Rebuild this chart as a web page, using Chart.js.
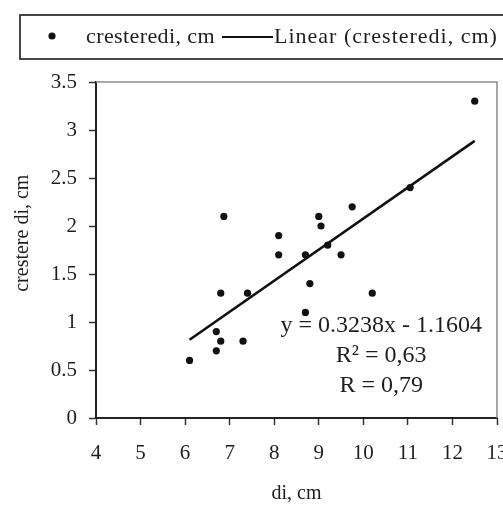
<!DOCTYPE html>
<html>
<head>
<meta charset="utf-8">
<script src="https://cdn.jsdelivr.net/npm/chart.js@4/dist/chart.umd.min.js"></script>
<style>
  html, body { margin: 0; padding: 0; background: #fff; overflow: hidden; width: 503px; height: 506px; }
  #wrap { position: absolute; left: 0; top: 0; width: 516px; height: 506px; }
</style>
</head>
<body>
<div id="wrap"><canvas id="c" width="516" height="506"></canvas></div>
<script>
// Diameter (di, cm) and diameter increment (crestere di, cm) per tree
const diCm = [6.1, 6.7, 6.7, 6.8, 6.8, 6.87, 7.3, 7.4, 8.1, 8.1, 8.7, 8.7, 8.8, 9.0, 9.05, 9.2, 9.5, 9.75, 10.2, 11.05, 12.5];
const cresteriCm = [0.6, 0.9, 0.7, 1.3, 0.8, 2.1, 0.8, 1.3, 1.9, 1.7, 1.7, 1.1, 1.4, 2.1, 2.0, 1.8, 1.7, 2.2, 1.3, 2.4, 3.3];

// Linear trend as reported on the chart
const trendSlope = 0.3238;
const trendIntercept = -1.1604;
const trendLines = ['y = 0.3238x - 1.1604', 'R\u00B2 = 0,63', 'R = 0,79'];

// Axis ranges and labels
const xTicks = [4, 5, 6, 7, 8, 9, 10, 11, 12, 13];
const yTicks = [0, 0.5, 1, 1.5, 2, 2.5, 3, 3.5];
const seriesLabel = 'cresteredi, cm';
const trendLabel = 'Linear (cresteredi, cm)';
const xTitle = 'di, cm';
const yTitle = 'crestere di, cm';

const FONT = '"Liberation Serif", "Times New Roman", serif';
const INK = '#1e1e1e';

const points = diCm.map((x, i) => ({ x, y: cresteriCm[i] }));
const xLo = Math.min(...diCm), xHi = Math.max(...diCm);
const trendPts = [xLo, xHi].map(x => ({ x, y: trendSlope * x + trendIntercept }));

const decor = {
  id: 'decor',
  afterDraw(chart) {
    const { ctx, chartArea: a, scales } = chart;
    ctx.save();
    // light frame on the top and right of the plot area
    ctx.strokeStyle = '#8c8c8c';
    ctx.lineWidth = 1.5;
    ctx.beginPath();
    ctx.moveTo(a.left, a.top);
    ctx.lineTo(a.right, a.top);
    ctx.lineTo(a.right, a.bottom);
    ctx.stroke();

    ctx.fillStyle = INK;
    // axis titles
    ctx.font = '20px ' + FONT;
    ctx.textAlign = 'center';
    ctx.textBaseline = 'middle';
    ctx.fillText(xTitle, (a.left + a.right) / 2, 494);
    ctx.save();
    ctx.translate(23, a.top + (a.bottom - a.top) * 0.45);
    ctx.rotate(-Math.PI / 2);
    ctx.fillText(yTitle, 0, 0);
    ctx.restore();

    // regression statistics
    ctx.font = '24px ' + FONT;
    const cx = scales.x.getPixelForValue(10.4);
    const ys = [0.96, 0.65, 0.335];
    trendLines.forEach((t, i) => ctx.fillText(t, cx, scales.y.getPixelForValue(ys[i])));

    // legend box
    ctx.strokeStyle = '#333';
    ctx.lineWidth = 1.8;
    ctx.strokeRect(20, 15, 500, 44);
    const ly = 37;
    const ds0 = chart.data.datasets[0];
    ctx.beginPath();
    ctx.arc(52, ly - 1, ds0.pointRadius, 0, Math.PI * 2);
    ctx.fillStyle = ds0.backgroundColor;
    ctx.fill();
    ctx.fillStyle = INK;
    ctx.font = '22px ' + FONT;
    ctx.letterSpacing = '0.4px';
    ctx.textAlign = 'left';
    ctx.fillText(ds0.label, 86, ly);
    const ds1 = chart.data.datasets[1];
    ctx.strokeStyle = ds1.borderColor;
    ctx.lineWidth = 2.2;
    ctx.beginPath();
    ctx.moveTo(222, ly);
    ctx.lineTo(273, ly);
    ctx.stroke();
    ctx.letterSpacing = '1px';
    ctx.fillText(ds1.label, 274, ly);
    ctx.restore();
  }
};

const tickFont = { family: FONT, size: 21 };

new Chart(document.getElementById('c'), {
  type: 'scatter',
  data: {
    datasets: [
      {
        label: seriesLabel,
        data: points,
        pointRadius: 3.6,
        pointHoverRadius: 3.6,
        backgroundColor: '#111',
        borderWidth: 0,
        order: 0
      },
      {
        type: 'line',
        label: trendLabel,
        data: trendPts,
        borderColor: '#111',
        borderWidth: 2.6,
        pointRadius: 0,
        fill: false,
        order: 1
      }
    ]
  },
  options: {
    responsive: false,
    animation: false,
    events: [],
    layout: { padding: { top: 82, right: 19, left: 0, bottom: 0 } },
    plugins: { legend: { display: false }, tooltip: { enabled: false } },
    scales: {
      x: {
        type: 'linear',
        min: xTicks[0],
        max: xTicks[xTicks.length - 1],
        afterBuildTicks: s => { s.ticks = xTicks.map(v => ({ value: v })); },
        afterFit: s => { s.height = 88; s.paddingLeft = 0; s.paddingRight = 0; },
        ticks: { font: tickFont, color: INK, padding: 16, maxRotation: 0, autoSkip: false, callback: v => String(v) },
        grid: { drawOnChartArea: false, drawTicks: true, tickLength: 7, tickColor: '#333', tickWidth: 1.5 },
        border: { display: true, color: '#222', width: 2 }
      },
      y: {
        min: yTicks[0],
        max: yTicks[yTicks.length - 1],
        afterBuildTicks: s => { s.ticks = yTicks.map(v => ({ value: v })); },
        afterFit: s => { s.width = 96; s.paddingTop = 0; s.paddingBottom = 0; },
        ticks: { font: tickFont, color: INK, padding: 12, autoSkip: false, callback: v => String(v) },
        grid: { drawOnChartArea: false, drawTicks: true, tickLength: 7, tickColor: '#333', tickWidth: 1.5 },
        border: { display: true, color: '#222', width: 2 }
      }
    }
  },
  plugins: [decor]
});
</script>
</body>
</html>
